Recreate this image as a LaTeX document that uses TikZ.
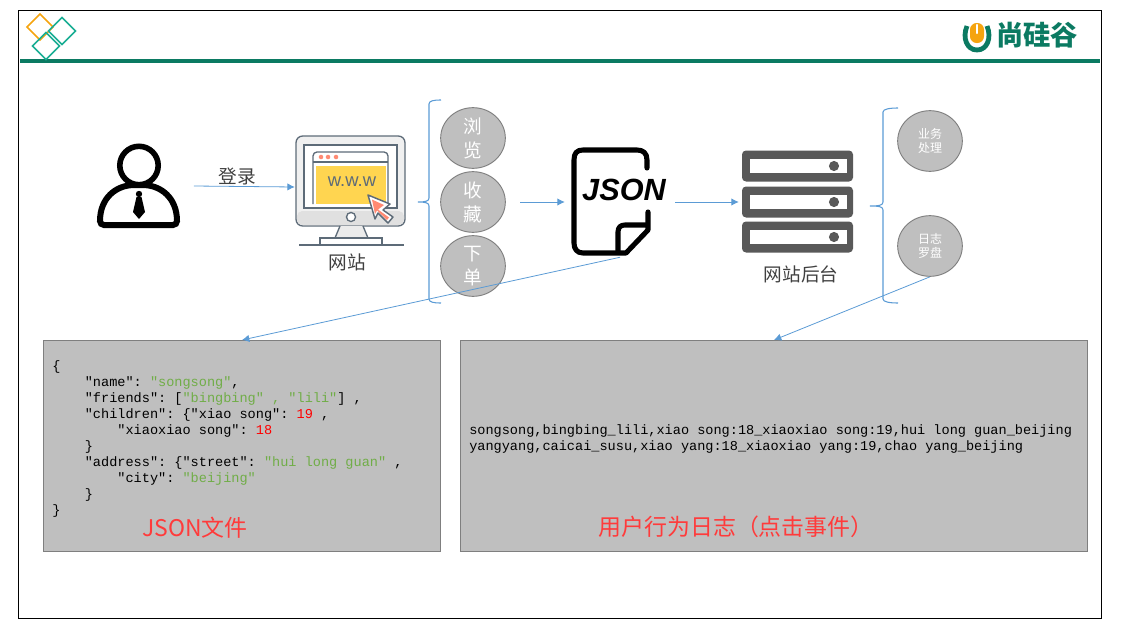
\documentclass[tikz,border=0pt]{standalone}
\usepackage{fontspec}
\setmainfont{Liberation Sans}
\setmonofont{Liberation Mono}
\newfontfamily\cjk{Noto Sans CJK SC}
\usetikzlibrary{arrows.meta,shapes.geometric}
\definecolor{linkblue}{HTML}{5B9BD5}
\definecolor{bubblegray}{HTML}{BFBFBF}
\definecolor{edgegray}{HTML}{7F7F7F}
\definecolor{logogreen}{HTML}{0B7A62}
\definecolor{logoteal}{HTML}{1BAE94}
\definecolor{logoorange}{HTML}{F5A40F}
\definecolor{slate}{HTML}{5D6B78}
\definecolor{salmon}{HTML}{FF8A73}
\definecolor{webyellow}{HTML}{FFD550}
\definecolor{redtext}{HTML}{FF3B3B}
\definecolor{jsongreen}{HTML}{70AD47}
\begin{document}
\begin{tikzpicture}[x=0.75pt,y=-0.75pt,>={Latex[length=5.5pt,width=5.5pt]},
link/.style={draw=linkblue,line width=0.6pt},
bracket/.style={draw=linkblue,line width=0.8pt},
iconbox/.style={rectangle,inner sep=0pt,minimum width=82.5pt,minimum height=82.5pt},
bubble/.style={ellipse,draw=edgegray,fill=bubblegray,line width=0.7pt,inner sep=0pt,minimum width=48.5pt,minimum height=45.5pt,text=white,align=center,font=\cjk\fontsize{14pt}{18pt}\selectfont},
smallbubble/.style={bubble,font=\cjk\fontsize{9pt}{10pt}\selectfont},
panel/.style={rectangle,draw=edgegray,fill=bubblegray,line width=0.75pt,inner sep=0pt},
cnlabel/.style={inner sep=0pt,text=black!75,font=\cjk\fontsize{14pt}{17pt}\selectfont},
redlabel/.style={inner sep=0pt,text=redtext,font=\cjk\fontsize{17.2pt}{20pt}\selectfont},
codetext/.style={inner sep=0pt,align=left,font=\ttfamily\frenchspacing\fontsize{10.18pt}{12pt}\selectfont}]
\useasboundingbox (0,0) rectangle (1140,628);
\draw[line width=0.6pt] (18,10) rectangle (1101,618);
% header
\draw[logogreen,line width=3pt] (20,61) -- (1100,61);
\draw[logoorange,line width=1.2pt] (40,14) -- (53,27) -- (40,40) -- (27,27) -- cycle;
\foreach \cx/\cy in {62/31,46/46}
  \draw[logoteal,line width=1.2pt] (\cx,\cy-13.5) -- (\cx+13.5,\cy) -- (\cx,\cy+13.5) -- (\cx-13.5,\cy) -- cycle;
\draw[logogreen,line width=3.6pt] (967,26) .. controls (962,38) and (967,50) .. (977,50) .. controls (987,50) and (992,38) .. (987,26);
\fill[logoorange,rounded corners=5pt] (970,23) rectangle (984,43);
\draw[white,line width=1.8pt,line cap=round] (977,25) -- (977,33);
\draw (1037,35) node[inner sep=0pt,text=logogreen,font=\cjk\bfseries\fontsize{20.5pt}{22pt}\selectfont] (brand) {尚硅谷};
% person
\draw (138.5,186) node[iconbox] (person) {};
\draw[line width=4.2pt] (139,165.5) circle (14.4pt);
\draw[line width=4.5pt,rounded corners=3pt] (100,225) .. controls (100,198) and (116,185) .. (138.5,185) .. controls (161,185) and (177,198) .. (177,225) -- cycle;
\fill (139,194) circle (2.4pt);
\fill (136.5,197) -- (141.5,197) -- (145,212) -- (139,219) -- (133,212) -- cycle;
% monitor
\draw (350,187) node[iconbox] (monitor) {};
\draw[slate,fill=black!6,line width=1pt,rounded corners=5pt] (296,136) rectangle (405,226);
\fill[black!12,rounded corners=4pt] (297,211) rectangle (404,225);
\draw[slate,fill=white,line width=1pt] (304,145) rectangle (397,208);
\draw[slate,line width=1pt,rounded corners=3pt] (313,204) -- (313,152) -- (388,152) -- (388,204);
\draw[slate,line width=1pt] (313,162) -- (388,162);
\fill[webyellow] (316,166) rectangle (386,204);
\foreach \dx in {321,328,336}
  \fill[salmon] (\dx,157) circle (1.7pt);
\draw (352,182) node[inner sep=0pt,text=slate,font=\fontsize{13.8pt}{15pt}\selectfont] (www) {w.w.w};
\draw[slate,fill=white,line width=1pt] (351,217) circle (3.4pt);
\draw[slate,fill=black!8,line width=1pt] (340,226) -- (335,238) -- (368,238) -- (363,226);
\draw[slate,line width=1pt] (320,245) -- (320,238) -- (382,238) -- (382,245);
\draw[slate,line width=1pt] (299,245) -- (404,245);
\draw[slate,fill=white,line width=1.1pt,line join=round] (368,195) -- (390,204) -- (383,210) -- (393,217) -- (388,223) -- (378,213) -- (375,219) -- cycle;
\fill[salmon] (372,199.5) -- (384,205) -- (378,209.5) -- (389,217.5) -- (387,220) -- (377,210.5) -- (375,214) -- cycle;
\draw (347,262) node[cnlabel] (site) {网站};
\draw (237,176) node[cnlabel] (login) {登录};
\draw[link,->] (person.east) -- (monitor.west);
% actions
\draw (473,138) node[bubble] (browse) {浏\\览};
\draw (473,202) node[bubble] (collect) {收\\藏};
\draw (473,266) node[bubble] (order) {下\\单};
\draw[bracket] (441,100) .. controls (433,100) and (429,101) .. (429,104) -- (429,198) .. controls (429,201) and (426,202) .. (418,202) .. controls (426,202) and (429,203) .. (429,206) -- (429,299) .. controls (429,302) and (433,303) .. (441,303);
% json file
\draw (620,202) node[iconbox] (jsonfile) {};
\draw[line width=3.8pt,line cap=round,line join=round] (647,168) -- (647,160) .. controls (647,153) and (643,150) .. (637,150) -- (583,150) .. controls (577,150) and (574,153) .. (574,160) -- (574,243) .. controls (574,249) and (577,253) .. (583,253) -- (626,253) -- (648,230) -- (648,212);
\draw[line width=3.8pt,line join=round] (618,253) -- (618,232) .. controls (618,227) and (621,225) .. (625,225) -- (648,225);
\draw (624,190) node[inner sep=0pt,font=\bfseries\itshape\fontsize{23pt}{26pt}\selectfont] (jsonword) {JSON};
\coordinate (afteractions) at (520,202);
\draw[link,->] (afteractions) -- (jsonfile.west);
% server
\draw (797.5,202) node[iconbox,minimum width=87.75pt] (server) {};
\foreach \sy in {166,202,237} {
  \fill[black!65,rounded corners=3pt] (742,\sy-15.5) rectangle (853,\sy+15.5);
  \fill[white] (750,\sy-7) rectangle (847,\sy+7);
  \fill[black!65] (834,\sy) circle (3.8pt);
}
\draw (801,274) node[cnlabel] (backend) {网站后台};
\draw[link,->] (jsonfile.east) -- (server.west);
\draw (930,141) node[smallbubble] (business) {业务\\处理};
\draw (930,246) node[smallbubble] (logs) {日志\\罗盘};
\draw[bracket] (898,108) .. controls (890,108) and (883,109) .. (883,112) -- (883,202) .. controls (883,205) and (880,206) .. (870,206) .. controls (880,206) and (883,207) .. (883,210) -- (883,299) .. controls (883,302) and (890,303) .. (898,303);
% panels
\draw (242,446) node[panel,minimum width=297.75pt,minimum height=158.25pt] (jsonbox) {};
\draw (774,446) node[panel,minimum width=470.25pt,minimum height=158.25pt] (logbox) {};
\draw[link,->] (jsonfile.south) -- (jsonbox.north);
\draw[link,->] (logs.south) -- (logbox.north);
\draw (52,360.5) node[codetext,anchor=north west] (jsoncode) {\{\\
~~~~"name": \textcolor{jsongreen}{"songsong"},\\
~~~~"friends": [\textcolor{jsongreen}{"bingbing" , "lili"}] ,\\
~~~~"children": \{"xiao song": \textcolor{red}{19} ,\\
~~~~~~~~"xiaoxiao song": \textcolor{red}{18}\\
~~~~\}\\
~~~~"address": \{"street": \textcolor{jsongreen}{"hui long guan"} ,\\
~~~~~~~~"city": \textcolor{jsongreen}{"beijing"}\\
~~~~\}\\
\}};
\draw (469,424) node[codetext,anchor=north west] (logcode) {songsong,bingbing\_lili,xiao song:18\_xiaoxiao song:19,hui long guan\_beijing\\
yangyang,caicai\_susu,xiao yang:18\_xiaoxiao yang:19,chao yang\_beijing};
\draw (195,528) node[redlabel] (jsoncap) {JSON文件};
\draw (736,527) node[redlabel] (logcap) {用户行为日志（点击事件）};
\end{tikzpicture}
\end{document}
